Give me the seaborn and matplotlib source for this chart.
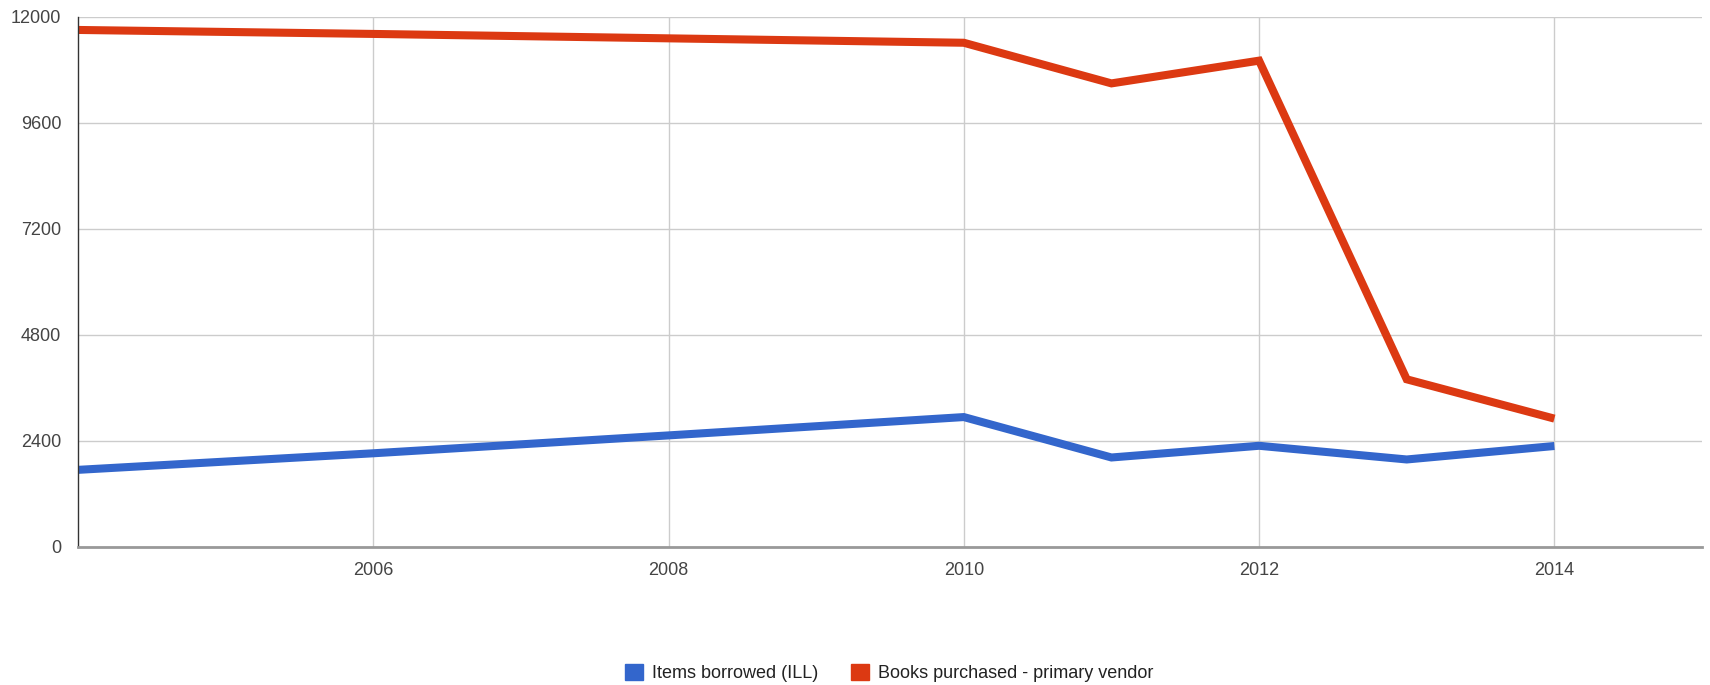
import matplotlib
matplotlib.use("Agg")
import matplotlib.pyplot as plt
from matplotlib.patches import Patch
import seaborn as sns
import pandas as pd

years = [2004, 2006, 2008, 2010, 2011, 2012, 2013, 2014]
items_borrowed = [1740, 2115, 2520, 2935, 2020, 2285, 1975, 2280]
books_purchased = [11700, 11610, 11510, 11410, 10490, 11005, 3790, 2900]
series_names = ["Items borrowed (ILL)", "Books purchased - primary vendor"]
series_colors = ["#3366CC", "#DC3912"]
y_ticks = [0, 2400, 4800, 7200, 9600, 12000]
x_ticks = [2006, 2008, 2010, 2012, 2014]

df = pd.DataFrame({
    "year": years * 2,
    "value": items_borrowed + books_purchased,
    "series": [series_names[0]] * len(years) + [series_names[1]] * len(years),
})

sns.set_style("white")
plt.rcParams["font.family"] = ["Liberation Sans", "DejaVu Sans"]

fig = plt.figure(figsize=(17.1, 6.85), dpi=100)
ax = fig.add_axes([78 / 1710, 1 - 546.7 / 685, (1702 - 78) / 1710, (546.7 - 16.7) / 685])

sns.lineplot(data=df, x="year", y="value", hue="series", hue_order=series_names,
             palette=series_colors, linewidth=5.8, ax=ax, legend=False,
             solid_joinstyle="miter", solid_capstyle="butt")

ax.set_xlim(2004, 2015)
ax.set_ylim(0, 12000)
ax.set_xticks(x_ticks)
ax.set_xticklabels([str(t) for t in x_ticks])
ax.set_yticks(y_ticks)
ax.set_yticklabels([str(t) for t in y_ticks])
ax.grid(True, color="#cccccc", linewidth=1)
ax.set_axisbelow(True)
ax.set_xlabel("")
ax.set_ylabel("")
ax.tick_params(axis="both", length=0, labelsize=13, colors="#444444")
ax.tick_params(axis="x", pad=11)
ax.tick_params(axis="y", pad=12)
for s in ["top", "right"]:
    ax.spines[s].set_visible(False)
ax.spines["left"].set_color("#333333")
ax.spines["left"].set_linewidth(1)
ax.spines["bottom"].set_color("#999999")
ax.spines["bottom"].set_linewidth(2)

handles = [Patch(facecolor=c, edgecolor=c) for c in series_colors]
fig.legend(handles, series_names, loc="center", bbox_to_anchor=(889 / 1710, 1 - 673 / 685),
           ncol=2, frameon=False, fontsize=13, handlelength=1.0, handleheight=1.0,
           handletextpad=0.5, columnspacing=1.8, labelcolor="#222222")

fig.savefig("out.png", dpi=100)
